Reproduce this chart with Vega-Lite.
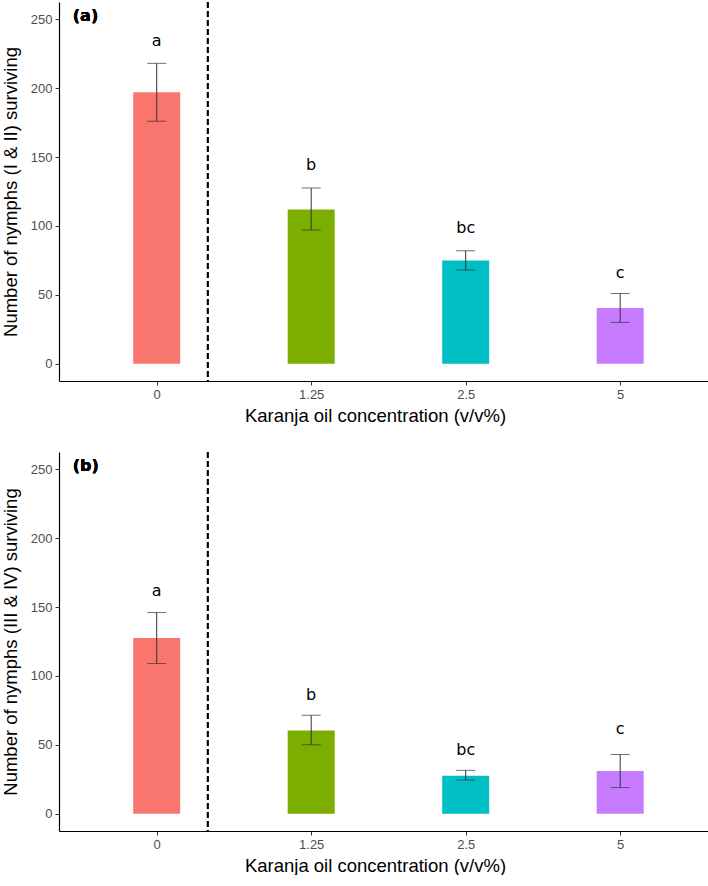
{
  "$schema": "https://vega.github.io/schema/vega-lite/v6.json",
  "padding": {"left": 1, "top": 1, "right": 0, "bottom": 0},
  "background": "white",
  "datasets": {
    "a": [
      {"conc": "0", "pos": 1, "mean": 197, "lo": 176, "hi": 218, "letter": "a", "ly": 234.5},
      {"conc": "1.25", "pos": 2, "mean": 112, "lo": 97, "hi": 127.5, "letter": "b", "ly": 144},
      {"conc": "2.5", "pos": 3, "mean": 75, "lo": 68, "hi": 82, "letter": "bc", "ly": 98.5},
      {"conc": "5", "pos": 4, "mean": 40.5, "lo": 30, "hi": 51, "letter": "c", "ly": 66}
    ],
    "b": [
      {"conc": "0", "pos": 1, "mean": 127.5, "lo": 109, "hi": 146, "letter": "a", "ly": 161.5},
      {"conc": "1.25", "pos": 2, "mean": 60.5, "lo": 50, "hi": 71.5, "letter": "b", "ly": 86},
      {"conc": "2.5", "pos": 3, "mean": 27.5, "lo": 24.5, "hi": 31.5, "letter": "bc", "ly": 46.5},
      {"conc": "5", "pos": 4, "mean": 31, "lo": 19, "hi": 43, "letter": "c", "ly": 61.5}
    ]
  },
  "config": {
    "view": {"stroke": null},
    "axis": {
      "grid": false,
      "domainColor": "black",
      "domainWidth": 1.2,
      "tickColor": "#333333",
      "tickSize": 4,
      "labelColor": "#4D4D4D",
      "labelFont": "Liberation Sans",
      "labelFontSize": 13,
      "labelPadding": 3,
      "titleFont": "Liberation Sans",
      "titleFontSize": 18.5,
      "titleFontWeight": "normal",
      "titleColor": "black"
    }
  },
  "spacing": 26,
  "vconcat": [
    {
      "width": 649,
      "height": 379,
      "data": {"name": "a"},
      "encoding": {
        "x": {"field": "pos", "type": "quantitative",
              "scale": {"domain": [0.4, 4.536], "nice": false, "zero": false},
              "axis": {"values": [1, 2, 3, 4], "title": "Karanja oil concentration (v/v%)", "titlePadding": 5, "titleX": 316,
                       "labelExpr": "datum.value == 1 ? '0' : datum.value == 2 ? '1.25' : datum.value == 3 ? '2.5' : '5'"}}
      },
      "layer": [
        {
          "mark": {"type": "bar", "width": 47},
          "encoding": {
            "y": {"field": "mean", "type": "quantitative",
                  "scale": {"domain": [-12.5, 262.5], "nice": false, "zero": false},
                  "axis": {"values": [0, 50, 100, 150, 200, 250], "title": "Number of nymphs (I & II) surviving", "titlePadding": 10}},
            "y2": {"datum": 0},
            "color": {"field": "conc", "type": "nominal", "legend": null,
                      "scale": {"domain": ["0", "1.25", "2.5", "5"], "range": ["#F8766D", "#7CAE00", "#00BFC4", "#C77CFF"]}}
          }
        },
        {
          "mark": {"type": "rule", "color": "#333333", "strokeWidth": 1},
          "encoding": {"y": {"field": "lo", "type": "quantitative"}, "y2": {"field": "hi"}}
        },
        {
          "mark": {"type": "tick", "orient": "horizontal", "color": "#333333", "thickness": 1, "size": 19},
          "encoding": {"y": {"field": "lo", "type": "quantitative"}}
        },
        {
          "mark": {"type": "tick", "orient": "horizontal", "color": "#333333", "thickness": 1, "size": 19},
          "encoding": {"y": {"field": "hi", "type": "quantitative"}}
        },
        {
          "mark": {"type": "text", "font": "DejaVu Sans", "fontSize": 16, "color": "black", "baseline": "middle"},
          "encoding": {"y": {"field": "ly", "type": "quantitative"}, "text": {"field": "letter"}}
        },
        {
          "mark": {"type": "rule", "color": "black", "strokeWidth": 1.5, "strokeDash": [6, 3]},
          "encoding": {"x": {"datum": 1.33}}
        },
        {
          "mark": {"type": "text", "font": "DejaVu Sans", "fontSize": 16, "fontWeight": "bold", "align": "left", "baseline": "middle", "color": "black"},
          "encoding": {"x": {"datum": 0.457}, "y": {"datum": 252}, "text": {"value": "(a)"}}
        }
      ]
    },
    {
      "width": 649,
      "height": 379,
      "data": {"name": "b"},
      "encoding": {
        "x": {"field": "pos", "type": "quantitative",
              "scale": {"domain": [0.4, 4.536], "nice": false, "zero": false},
              "axis": {"values": [1, 2, 3, 4], "title": "Karanja oil concentration (v/v%)", "titlePadding": 5, "titleX": 316,
                       "labelExpr": "datum.value == 1 ? '0' : datum.value == 2 ? '1.25' : datum.value == 3 ? '2.5' : '5'"}}
      },
      "layer": [
        {
          "mark": {"type": "bar", "width": 47},
          "encoding": {
            "y": {"field": "mean", "type": "quantitative",
                  "scale": {"domain": [-12.5, 262.5], "nice": false, "zero": false},
                  "axis": {"values": [0, 50, 100, 150, 200, 250], "title": "Number of nymphs (III & IV) surviving", "titlePadding": 10}},
            "y2": {"datum": 0},
            "color": {"field": "conc", "type": "nominal", "legend": null,
                      "scale": {"domain": ["0", "1.25", "2.5", "5"], "range": ["#F8766D", "#7CAE00", "#00BFC4", "#C77CFF"]}}
          }
        },
        {
          "mark": {"type": "rule", "color": "#333333", "strokeWidth": 1},
          "encoding": {"y": {"field": "lo", "type": "quantitative"}, "y2": {"field": "hi"}}
        },
        {
          "mark": {"type": "tick", "orient": "horizontal", "color": "#333333", "thickness": 1, "size": 19},
          "encoding": {"y": {"field": "lo", "type": "quantitative"}}
        },
        {
          "mark": {"type": "tick", "orient": "horizontal", "color": "#333333", "thickness": 1, "size": 19},
          "encoding": {"y": {"field": "hi", "type": "quantitative"}}
        },
        {
          "mark": {"type": "text", "font": "DejaVu Sans", "fontSize": 16, "color": "black", "baseline": "middle"},
          "encoding": {"y": {"field": "ly", "type": "quantitative"}, "text": {"field": "letter"}}
        },
        {
          "mark": {"type": "rule", "color": "black", "strokeWidth": 1.5, "strokeDash": [6, 3]},
          "encoding": {"x": {"datum": 1.33}}
        },
        {
          "mark": {"type": "text", "font": "DejaVu Sans", "fontSize": 16, "fontWeight": "bold", "align": "left", "baseline": "middle", "color": "black"},
          "encoding": {"x": {"datum": 0.457}, "y": {"datum": 252}, "text": {"value": "(b)"}}
        }
      ]
    }
  ]
}
